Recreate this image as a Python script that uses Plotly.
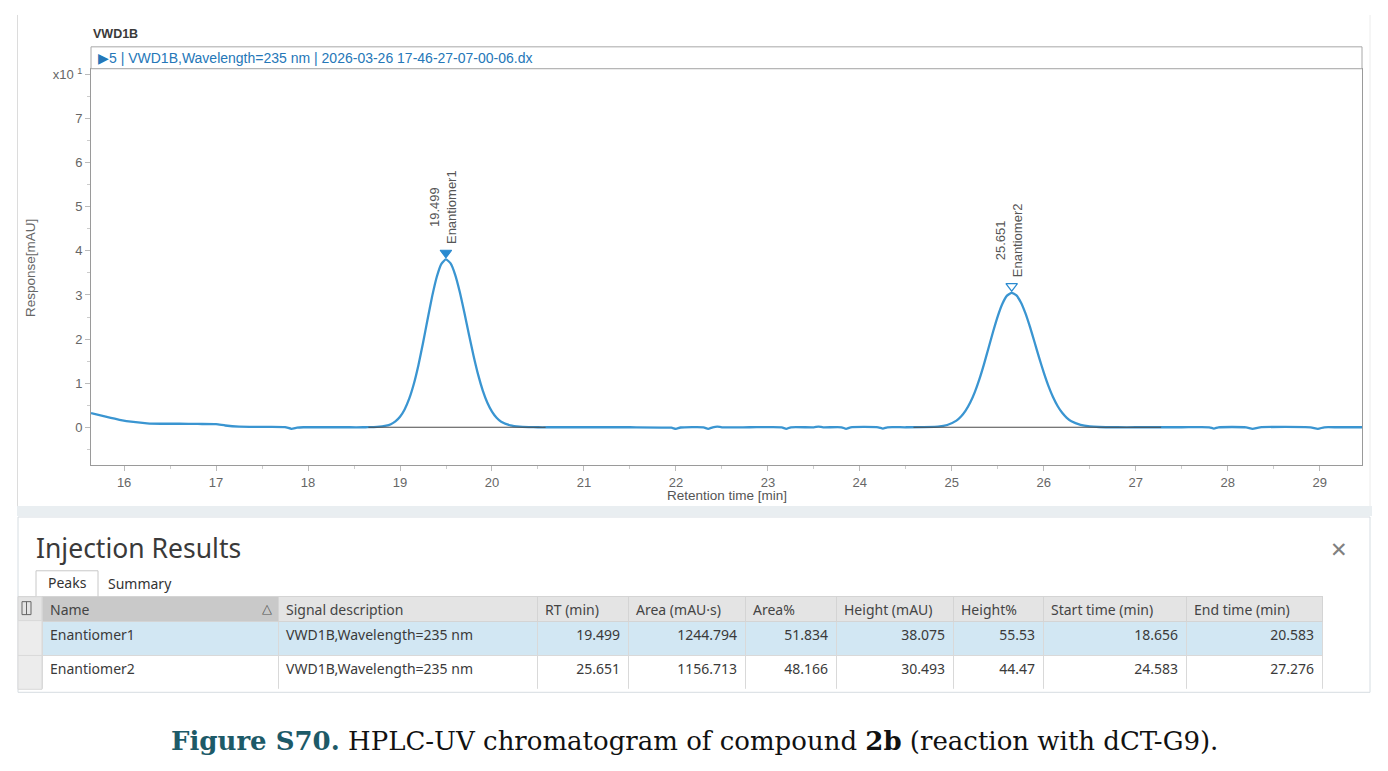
import plotly.graph_objects as go

# ---------------- data ----------------
time_min = [15.64, 15.8, 15.95, 16.1, 16.25, 16.4, 16.6, 16.8, 17.0, 17.1, 17.25, 17.5, 17.75, 17.82, 17.88, 17.95, 18.2, 18.45, 18.6,
            18.65, 18.75, 18.85, 18.9, 18.95, 19.0, 19.05, 19.1, 19.15, 19.2, 19.25, 19.3, 19.35, 19.4, 19.45, 19.499,
            19.55, 19.6, 19.65, 19.7, 19.75, 19.8, 19.85, 19.9, 19.95, 20.0, 20.05, 20.1, 20.2, 20.3, 20.4, 20.5, 20.6,
            20.7, 21.0, 21.5, 21.95, 22.0, 22.05, 22.3, 22.35, 22.4, 22.45, 22.5, 22.8, 23.15, 23.2, 23.25, 23.5, 23.55, 23.6,
            23.8, 23.85, 23.9, 24.2, 24.25, 24.3, 24.5,
            24.85, 24.95, 25.05, 25.1, 25.15, 25.2, 25.25, 25.3, 25.35, 25.4, 25.45, 25.5, 25.55, 25.6, 25.651,
            25.7, 25.75, 25.8, 25.85, 25.9, 25.95, 26.0, 26.05, 26.1, 26.15, 26.2, 26.25, 26.3, 26.4, 26.5, 26.6, 26.8,
            27.0, 27.5, 27.8, 27.85, 27.9, 28.2, 28.27, 28.35, 28.9, 28.98, 29.05, 29.2, 29.46]
response_mau = [3.2, 2.4, 1.7, 1.2, 0.9, 0.8, 0.8, 0.75, 0.7, 0.4, 0.15, 0.1, 0.05, -0.35, -0.1, 0.0, 0.0, 0.0, 0.0,
                0.01, 0.07, 0.35, 0.70, 1.34, 2.39, 4.05, 6.49, 9.82, 14.09, 19.10, 24.51, 29.74, 34.14, 37.07, 38.08,
                37.15, 34.58, 30.69, 25.99, 20.99, 16.17, 11.88, 8.33, 5.57, 3.55, 2.16, 1.25, 0.45, 0.15, 0.05, 0.0, 0.0,
                0.0, 0.0, 0.0, -0.1, -0.35, -0.05, 0.0, -0.35, 0.0, 0.15, 0.0, 0.0, 0.0, -0.35, 0.0, 0.0, 0.15, 0.0,
                0.0, -0.35, 0.0, 0.0, -0.3, 0.0, 0.0,
                0.15, 0.51, 1.50, 2.43, 3.76, 5.60, 7.98, 10.92, 14.33, 18.04, 21.77, 25.21, 28.01, 29.84, 30.49,
                29.95, 28.36, 25.88, 22.75, 19.27, 15.74, 12.38, 9.39, 6.86, 4.83, 3.28, 2.14, 1.35, 0.55, 0.2, 0.06, 0.0,
                0.0, 0.0, 0.0, -0.3, 0.0, 0.0, -0.35, 0.0, 0.0, -0.35, 0.0, 0.0, 0.0]

peak_names = ["Enantiomer1", "Enantiomer2"]
signal_desc = ["VWD1B,Wavelength=235 nm", "VWD1B,Wavelength=235 nm"]
rt_min = [19.499, 25.651]
area = [1244.794, 1156.713]
area_pct = [51.834, 48.166]
height_mau = [38.075, 30.493]
height_pct = [55.53, 44.47]
start_min = [18.656, 24.583]
end_min = [20.583, 27.276]
peak_symbols = ["triangle-down", "triangle-down-open"]

x_ticks = list(range(16, 30))
y_tickvals = [0, 10, 20, 30, 40, 50, 60, 70, 80]
y_ticktext = ["0", "1", "2", "3", "4", "5", "6", "7", "x10 <sup>1</sup>"]

col_headers = ["Name", "Signal description", "RT (min)", "Area (mAU\u00b7s)", "Area%",
               "Height (mAU)", "Height%", "Start time (min)", "End time (min)"]

# ---------------- helpers ----------------
W, H = 1388, 771


def px(x):
    return x / W


def py(y):
    return 1 - y / H


BLUE = "#3a95d1"
SANS = "Liberation Sans, Arial, sans-serif"
UI = "Noto Sans, Open Sans, sans-serif"

fig = go.Figure()

# chromatogram
fig.add_trace(go.Scatter(x=time_min, y=response_mau, mode="lines",
                         line=dict(color=BLUE, width=2.3, shape="spline", smoothing=0.5),
                         hoverinfo="skip", showlegend=False))

# integration baselines
for s, e in zip(start_min, end_min):
    fig.add_trace(go.Scatter(x=[s, e], y=[0, 0], mode="lines",
                             line=dict(color="#4a4a4a", width=1.2),
                             hoverinfo="skip", showlegend=False))

# peak markers
fig.add_trace(go.Scatter(x=rt_min, y=[h + 1.5 for h in height_mau], mode="markers",
                         marker=dict(symbol=peak_symbols, size=10, color="#2a8ad0",
                                     line=dict(color="#2a8ad0", width=1.2)),
                         hoverinfo="skip", showlegend=False))

annotations = []
for name, rt, h in zip(peak_names, rt_min, height_mau):
    annotations.append(dict(x=rt, y=h + 3.0, xref="x", yref="y",
                            text=f"{rt:.3f}<br>{name}", textangle=-90,
                            showarrow=False, xanchor="center", yanchor="bottom",
                            xshift=-3, font=dict(family=SANS, size=13, color="#555555")))

# table
hdr_fill = ["#c9c9c9"] + ["#e4e4e4"] * 8
row_fill = [["#d2e7f3", "#ffffff"]] * 9
cells = [peak_names, signal_desc,
         [f"{v:.3f}" for v in rt_min],
         [f"{v:.3f}" for v in area],
         [f"{v:.3f}" for v in area_pct],
         [f"{v:.3f}" for v in height_mau],
         [f"{v:.2f}" for v in height_pct],
         [f"{v:.3f}" for v in start_min],
         [f"{v:.3f}" for v in end_min]]
fig.add_trace(go.Table(
    domain=dict(x=[px(42), px(1322)], y=[py(689), py(596)]),
    columnwidth=[236, 259, 91, 117, 91, 117, 90, 143, 136],
    header=dict(values=col_headers, fill_color=hdr_fill, align="left", height=25,
                line=dict(color="#d4d4d4", width=1),
                font=dict(family=UI, size=14, color="#444444")),
    cells=dict(values=cells, fill_color=row_fill, height=34,
               align=["left", "left"] + ["right"] * 7,
               line=dict(color="#d9d9d9", width=1),
               font=dict(family=UI, size=14, color="#3a3a3a")),
))

shapes = []
# outer chart panel border
shapes.append(dict(type="line", xref="paper", yref="paper", x0=px(17.5), x1=px(17.5), y0=py(12), y1=py(505),
                   line=dict(color="#dcdcdc", width=1)))
shapes.append(dict(type="line", xref="paper", yref="paper", x0=px(1370), x1=px(1370), y0=py(12), y1=py(505),
                   line=dict(color="#ececec", width=1)))
# separator band
shapes.append(dict(type="rect", xref="paper", yref="paper", x0=px(17), x1=px(1372), y0=py(515), y1=py(505),
                   fillcolor="#e9eef1", line=dict(width=0), layer="below"))
# injection results panel
shapes.append(dict(type="rect", xref="paper", yref="paper", x0=px(18), x1=px(1370), y0=py(692), y1=py(516),
                   fillcolor="rgba(0,0,0,0)", line=dict(color="#d6dde2", width=1)))
# header box above plot
shapes.append(dict(type="rect", xref="paper", yref="paper", x0=px(91), x1=px(1362), y0=py(66), y1=py(44),
                   fillcolor="#ffffff", line=dict(color="#a8a8a8", width=1)))
# tabs
shapes.append(dict(type="path", xref="paper", yref="paper",
                   path=f"M {px(36)},{py(596)} L {px(36)},{py(570)} L {px(98)},{py(570)} L {px(98)},{py(596)}",
                   line=dict(color="#c8c8c8", width=1)))
shapes.append(dict(type="line", xref="paper", yref="paper", x0=px(18), x1=px(36), y0=py(596), y1=py(596),
                   line=dict(color="#d4d4d4", width=1)))
# gutter column
shapes.append(dict(type="rect", xref="paper", yref="paper", x0=px(18), x1=px(42), y0=py(620), y1=py(596),
                   fillcolor="#e4e4e4", line=dict(color="#d4d4d4", width=1)))
shapes.append(dict(type="rect", xref="paper", yref="paper", x0=px(18), x1=px(42), y0=py(689), y1=py(620),
                   fillcolor="#ececec", line=dict(color="#d9d9d9", width=1)))
shapes.append(dict(type="line", xref="paper", yref="paper", x0=px(18), x1=px(42), y0=py(655), y1=py(655),
                   line=dict(color="#d9d9d9", width=1)))
# gutter icon
shapes.append(dict(type="rect", xref="paper", yref="paper", x0=px(22), x1=px(31), y0=py(614), y1=py(601),
                   fillcolor="rgba(0,0,0,0)", line=dict(color="#666666", width=1)))
shapes.append(dict(type="line", xref="paper", yref="paper", x0=px(26.5), x1=px(26.5), y0=py(614), y1=py(601),
                   line=dict(color="#666666", width=1)))

annotations += [
    dict(x=px(91), y=py(31), xref="paper", yref="paper", text="<b>VWD1B</b>", showarrow=False,
         xanchor="left", yanchor="middle", font=dict(family=SANS, size=12.5, color="#3a3a3a")),
    dict(x=px(96), y=py(55), xref="paper", yref="paper",
         text="\u25b65 | VWD1B,Wavelength=235 nm | 2026-03-26 17-46-27-07-00-06.dx", showarrow=False,
         xanchor="left", yanchor="middle", font=dict(family=SANS, size=14, color="#2577b8")),
    dict(x=px(31), y=py(266), xref="paper", yref="paper", text="Response[mAU]", textangle=-90,
         showarrow=False, xanchor="center", yanchor="middle", font=dict(family=SANS, size=13.5, color="#666666")),
    dict(x=px(727), y=py(494), xref="paper", yref="paper", text="Retention time [min]",
         showarrow=False, xanchor="center", yanchor="middle", font=dict(family=SANS, size=13.5, color="#555555")),
    dict(x=px(34), y=py(547), xref="paper", yref="paper", text="Injection Results", showarrow=False,
         xanchor="left", yanchor="middle", font=dict(family=UI, size=26.5, color="#3a3a3a")),
    dict(x=px(1339), y=py(548), xref="paper", yref="paper", text="\u2715", showarrow=False,
         xanchor="center", yanchor="middle", font=dict(family=UI, size=21, color="#808080")),
    dict(x=px(67), y=py(582), xref="paper", yref="paper", text="Peaks", showarrow=False,
         xanchor="center", yanchor="middle", font=dict(family=UI, size=14, color="#333333")),
    dict(x=px(106), y=py(583), xref="paper", yref="paper", text="Summary", showarrow=False,
         xanchor="left", yanchor="middle", font=dict(family=UI, size=14, color="#333333")),
    dict(x=px(267), y=py(608), xref="paper", yref="paper", text="\u25b3", showarrow=False,
         xanchor="center", yanchor="middle", font=dict(family=SANS, size=13, color="#555555")),
    dict(x=px(694), y=py(741), xref="paper", yref="paper",
         text="<span style='color:#1d5a68'><b>Figure S70.</b></span> HPLC-UV chromatogram of compound <b>2b</b> (reaction with dCT-G9).",
         showarrow=False, xanchor="center", yanchor="middle",
         font=dict(family="DejaVu Serif, serif", size=26, color="#111111")),
]

fig.update_layout(
    width=W, height=H, autosize=False,
    margin=dict(l=0, r=0, t=0, b=0),
    paper_bgcolor="#ffffff", plot_bgcolor="#ffffff",
    showlegend=False,
    xaxis=dict(domain=[px(91), px(1362)], range=[15.64, 29.46],
               tickmode="array", tickvals=x_ticks, ticktext=[str(t) for t in x_ticks],
               ticks="outside", ticklen=5, tickcolor="#bbbbbb",
               minor=dict(dtick=0.5, tick0=16, ticks="outside", ticklen=3, tickcolor="#cccccc"),
               tickfont=dict(family=SANS, size=13, color="#666666"),
               showline=True, linecolor="#9a9a9a", linewidth=1, mirror=True,
               showgrid=False, zeroline=False, fixedrange=True),
    yaxis=dict(domain=[py(464), py(66)], range=[-8.6, 81.3],
               tickmode="array", tickvals=y_tickvals, ticktext=y_ticktext,
               ticks="outside", ticklen=5, tickcolor="#bbbbbb",
               minor=dict(dtick=5, tick0=0, ticks="outside", ticklen=3, tickcolor="#cccccc"),
               tickfont=dict(family=SANS, size=13, color="#666666"),
               showline=True, linecolor="#9a9a9a", linewidth=1, mirror=True,
               showgrid=False, zeroline=False, fixedrange=True),
    shapes=shapes,
    annotations=annotations,
)

fig.write_html("out.html")
